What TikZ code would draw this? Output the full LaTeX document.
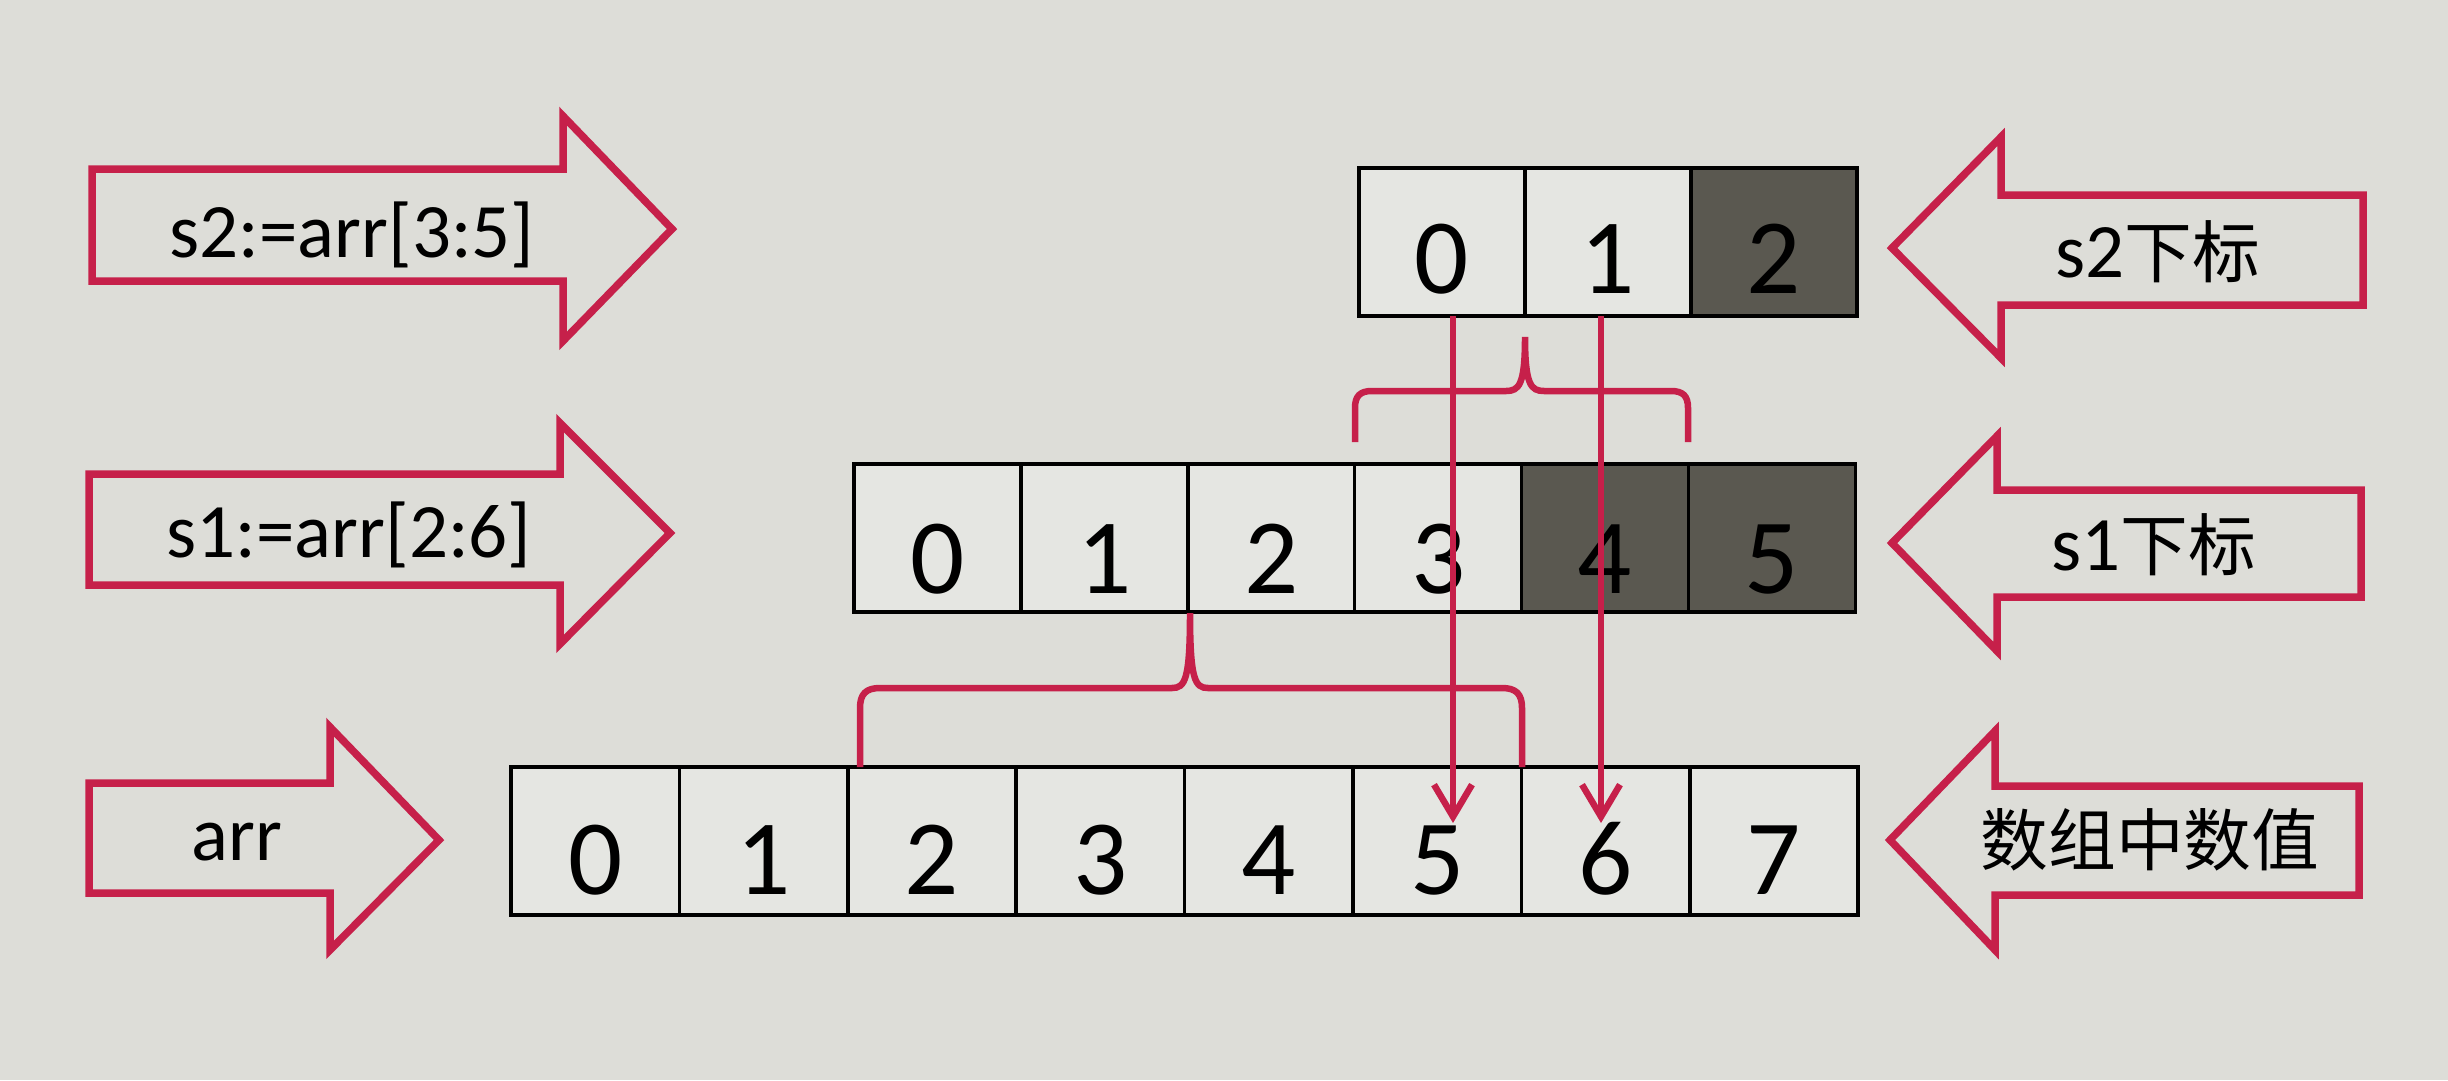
\documentclass[tikz,border=0pt]{standalone}
\usepackage{fontspec}
\setmainfont{Carlito}
\newfontfamily\cjk[Scale=0.88]{Noto Sans CJK SC}
\usetikzlibrary{arrows.meta}
\definecolor{bgc}{RGB}{221,221,216}
\definecolor{cellc}{RGB}{229,230,226}
\definecolor{darkc}{RGB}{90,88,80}
\definecolor{redc}{RGB}{198,32,74}
\begin{document}
\begin{tikzpicture}[x=1pt,y=-1pt,
  cellbox/.style={draw=black, line width=3.5pt, fill=#1, minimum height=148pt, inner sep=0pt, outer sep=0pt},
  digit/.style={anchor=base, inner sep=0pt, font=\fontsize{107}{110}\selectfont},
  lbl/.style={inner sep=0pt, font=\fontsize{77}{80}\selectfont},
  blockarrow/.style={draw=redc, line width=7.5pt, line join=miter},
  brace/.style={draw=redc, line width=6.5pt},
  conn/.style={draw=redc, line width=6.5pt, -{Straight Barb[length=32pt, width=38pt]}}
]
\useasboundingbox (0,0) rectangle (2448,1080);
\fill[bgc] (0,0) rectangle (2448,1080);

% arr row
\foreach \i in {0,...,7}
  \node[cellbox=cellc, minimum width=168.4pt] (a\i) at ({511+168.4*(\i+0.5)},841) {};
% s1 row
\foreach \i/\f in {0/cellc,1/cellc,2/cellc,3/cellc,4/darkc,5/darkc}
  \node[cellbox=\f, minimum width=166.9pt] (b\i) at ({854+166.9*(\i+0.5)},538) {};
% s2 row
\foreach \i/\f in {0/cellc,1/cellc,2/darkc}
  \node[cellbox=\f, minimum width=166pt] (c\i) at ({1359+166*(\i+0.5)},242) {};

% digits
\foreach \i in {0,...,7}
  \node[digit] (da\i) at ([yshift=21pt]a\i.south) {\i};
\foreach \i in {0,...,5}
  \node[digit] (db\i) at ([yshift=19pt]b\i.south) {\i};
\foreach \i in {0,...,2}
  \node[digit] (dc\i) at ([yshift=23pt]c\i.south) {\i};

% left block arrows
\draw[blockarrow] (92,169) -- (563,169) -- (563,116) -- (672,229) -- (563,341) -- (563,281) -- (92,281) -- cycle;
\draw[blockarrow] (89,474) -- (560,474) -- (560,423) -- (670,533) -- (560,644) -- (560,585) -- (89,585) -- cycle;
\draw[blockarrow] (89,783) -- (330,783) -- (330,727) -- (439,840) -- (330,950) -- (330,893) -- (89,893) -- cycle;
% right block arrows
\draw[blockarrow] (2363,195) -- (2001,195) -- (2001,137) -- (1892,248) -- (2001,358) -- (2001,305) -- (2363,305) -- cycle;
\draw[blockarrow] (2361,490) -- (1997,490) -- (1997,436) -- (1892,543) -- (1997,651) -- (1997,597) -- (2361,597) -- cycle;
\draw[blockarrow] (2359,786) -- (1995,786) -- (1995,731) -- (1890,840) -- (1995,950) -- (1995,895) -- (2359,895) -- cycle;

% labels
\node[lbl] (ls2) at (352,235) {s2:=arr[3:5]};
\node[lbl] (ls1) at (349,535) {s1:=arr[2:6]};
\node[lbl] (larr) at (237,842) {arr};
\node[lbl] (rs2) at (2158,252) {s2{\cjk 下标}};
\node[lbl] (rs1) at (2154,545) {s1{\cjk 下标}};
\node[lbl] (rv) at (2150,840) {{\cjk 数组中数值}};

% braces
\draw[brace] (1355,442) -- (1355,408) .. controls (1355,396) and (1360,391) .. (1372,391) -- (1506,391) .. controls (1519,391) and (1525,385) .. (1525,337) .. controls (1525,385) and (1531,391) .. (1544,391) -- (1671,391) .. controls (1683,391) and (1688,396) .. (1688,408) -- (1688,442);
\draw[brace] (860,767) -- (860,708) .. controls (860,694) and (866,688) .. (880,688) -- (1172,688) .. controls (1185,688) and (1190,680) .. (1190,613) .. controls (1190,680) and (1195,688) .. (1208,688) -- (1502,688) .. controls (1516,688) and (1522,694) .. (1522,708) -- (1522,767);

% index arrows
\coordinate (t1) at (1453,823);
\coordinate (t2) at (1601,823);
\draw[conn] (c0.south -| t1) -- (t1);
\draw[conn] (c1.south -| t2) -- (t2);
\end{tikzpicture}
\end{document}
